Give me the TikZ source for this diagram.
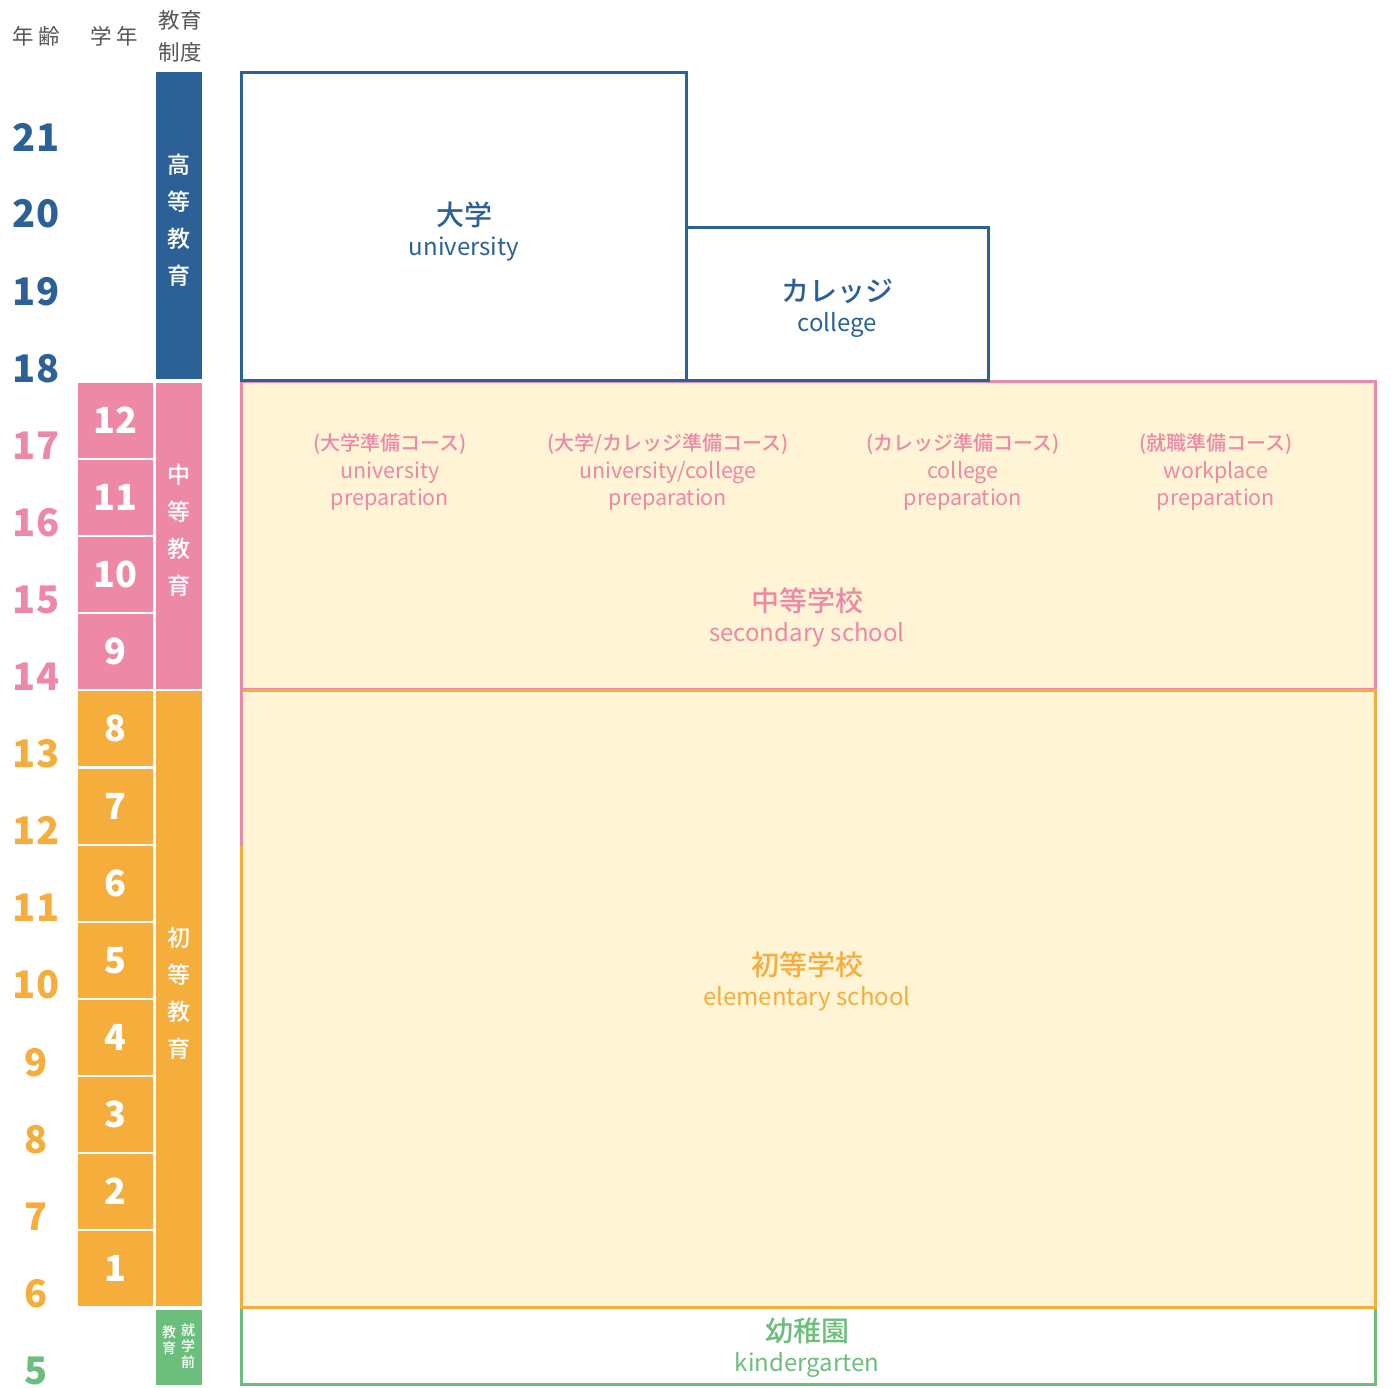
\documentclass[tikz,border=0pt]{standalone}
\usepackage{fontspec}
\setmainfont{Noto Sans CJK JP}
\newfontfamily\medfont{Noto Sans CJK JP Medium}
\usepackage{tikz}

\definecolor{cBlue}{RGB}{44,97,152}
\definecolor{cPink}{RGB}{237,136,167}
\definecolor{cOrange}{RGB}{245,173,59}
\definecolor{cGreen}{RGB}{108,190,125}
\definecolor{cCream}{RGB}{255,244,214}
\definecolor{cGray}{RGB}{85,85,85}

\begin{document}
\begin{tikzpicture}[x=1pt,y=-1pt,node distance={77.1pt},
  age/.style={font=\fontsize{38}{38}\selectfont\bfseries,inner sep=0pt},
  grade/.style={minimum width=75pt,minimum height=75pt,inner sep=0pt,text=white,font=\fontsize{36}{36}\selectfont\bfseries},
  sys/.style={minimum width=46pt,inner sep=0pt,text=white,align=center,font=\fontsize{23}{37}\selectfont\medfont},
  head/.style={text=cGray,align=center,font=\fontsize{21.5}{32}\selectfont},
  school/.style={align=center,font=\fontsize{24}{30}\selectfont},
  course/.style={align=center,text=cPink,font=\fontsize{21.5}{27.5}\selectfont},
  big/.style={font=\fontsize{28}{28}\selectfont\medfont}]
\useasboundingbox (0,0) rectangle (1391,1387);

% headers
\node[head] (hage) at (36,36) {年 齢};
\node[head] (hgrade) at (114,36) {学 年};
\node[head] (hsys) at (180,36) {教育\\制度};

% ages
\node[age,text=cBlue] (a21) at (36,137) {21};
\node[age,text=cBlue] (a20) [below of=a21] {20};
\node[age,text=cBlue] (a19) [below of=a20] {19};
\node[age,text=cBlue] (a18) [below of=a19] {18};
\node[age,text=cPink] (a17) [below of=a18] {17};
\node[age,text=cPink] (a16) [below of=a17] {16};
\node[age,text=cPink] (a15) [below of=a16] {15};
\node[age,text=cPink] (a14) [below of=a15] {14};
\node[age,text=cOrange] (a13) [below of=a14] {13};
\node[age,text=cOrange] (a12) [below of=a13] {12};
\node[age,text=cOrange] (a11) [below of=a12] {11};
\node[age,text=cOrange] (a10) [below of=a11] {10};
\node[age,text=cOrange] (a9) [below of=a10] {9};
\node[age,text=cOrange] (a8) [below of=a9] {8};
\node[age,text=cOrange] (a7) [below of=a8] {7};
\node[age,text=cOrange] (a6) [below of=a7] {6};
\node[age,text=cGreen] (a5) [below of=a6] {5};

% grades
\node[grade,fill=cPink] (g12) at (115.5,420.5) {12};
\node[grade,fill=cPink] (g11) [below of=g12] {11};
\node[grade,fill=cPink] (g10) [below of=g11] {10};
\node[grade,fill=cPink] (g9) [below of=g10] {9};
\node[grade,fill=cOrange] (g8) [below of=g9] {8};
\node[grade,fill=cOrange] (g7) [below of=g8] {7};
\node[grade,fill=cOrange] (g6) [below of=g7] {6};
\node[grade,fill=cOrange] (g5) [below of=g6] {5};
\node[grade,fill=cOrange] (g4) [below of=g5] {4};
\node[grade,fill=cOrange] (g3) [below of=g4] {3};
\node[grade,fill=cOrange] (g2) [below of=g3] {2};
\node[grade,fill=cOrange] (g1) [below of=g2] {1};

% education system
\node[fill=cBlue,minimum width=46pt,minimum height=307pt] (higher) at (179,225.5) {};
\node[fill=cPink,minimum width=46pt,minimum height=306pt] (second) at (179,536) {};
\node[fill=cOrange,minimum width=46pt,minimum height=615pt] (elem) at (179,998.5) {};
\node[fill=cGreen,minimum width=46pt,minimum height=75pt] (pre) at (179,1347.5) {};
\node[sys] (higher-t) at (179,220) {高\\等\\教\\育};
\node[sys] (second-t) at (179,530) {中\\等\\教\\育};
\node[sys] (elem-t) at (179,993) {初\\等\\教\\育};
\node[text=white,align=center,inner sep=0pt,font=\fontsize{14}{16}\selectfont\medfont] (pre1) at (188,1346) {就\\学\\前};
\node[text=white,align=center,inner sep=0pt,font=\fontsize{14}{16}\selectfont\medfont] (pre2) at (169,1340) {教\\育};

% schools
\fill[cCream] (241.5,381) rectangle (1375,1307);
\draw[cPink,line width=3pt] (241.5,381) rectangle (1375,689.5);
\draw[cOrange,line width=3pt] (241.5,690) rectangle (1375,1307);
\draw[cPink,line width=3pt] (241.5,381) -- (241.5,846);
\draw[cGreen,line width=3pt] (241.5,1307.5) rectangle (1375,1384.5);
\draw[cOrange,line width=3pt] (240,1307) -- (1376.5,1307);
\draw[cBlue,line width=3pt] (241.5,72.5) rectangle (686.5,380.5);
\draw[cBlue,line width=3pt] (686.5,227) rectangle (988.5,380.5);

\node[school,text=cBlue] (univ) at (464,231) {{\fontsize{28}{28}\selectfont\medfont 大学}\\university};
\node[school,text=cBlue] (coll) at (837,308) {{\fontsize{28}{28}\selectfont\medfont カレッジ}\\college};
\node[school,text=cPink] (sec) at (807,617) {{\fontsize{28}{28}\selectfont\medfont 中等学校}\\secondary school};
\node[school,text=cOrange] (ele) at (807,981) {{\fontsize{28}{28}\selectfont\medfont 初等学校}\\elementary school};
\node[school,text=cGreen] (kind) at (807,1348) {{\fontsize{28}{28}\selectfont\medfont 幼稚園}\\kindergarten};

\node[course] (cu) at (390,472) {{\fontsize{20}{20}\selectfont\medfont (大学準備コース)}\\university\\preparation};
\node[course] (cuc) at (668,472) {{\fontsize{20}{20}\selectfont\medfont (大学/カレッジ準備コース)}\\university/college\\preparation};
\node[course] (cc) at (963,472) {{\fontsize{20}{20}\selectfont\medfont (カレッジ準備コース)}\\college\\preparation};
\node[course] (cw) at (1216,472) {{\fontsize{20}{20}\selectfont\medfont (就職準備コース)}\\workplace\\preparation};
\end{tikzpicture}
\end{document}
